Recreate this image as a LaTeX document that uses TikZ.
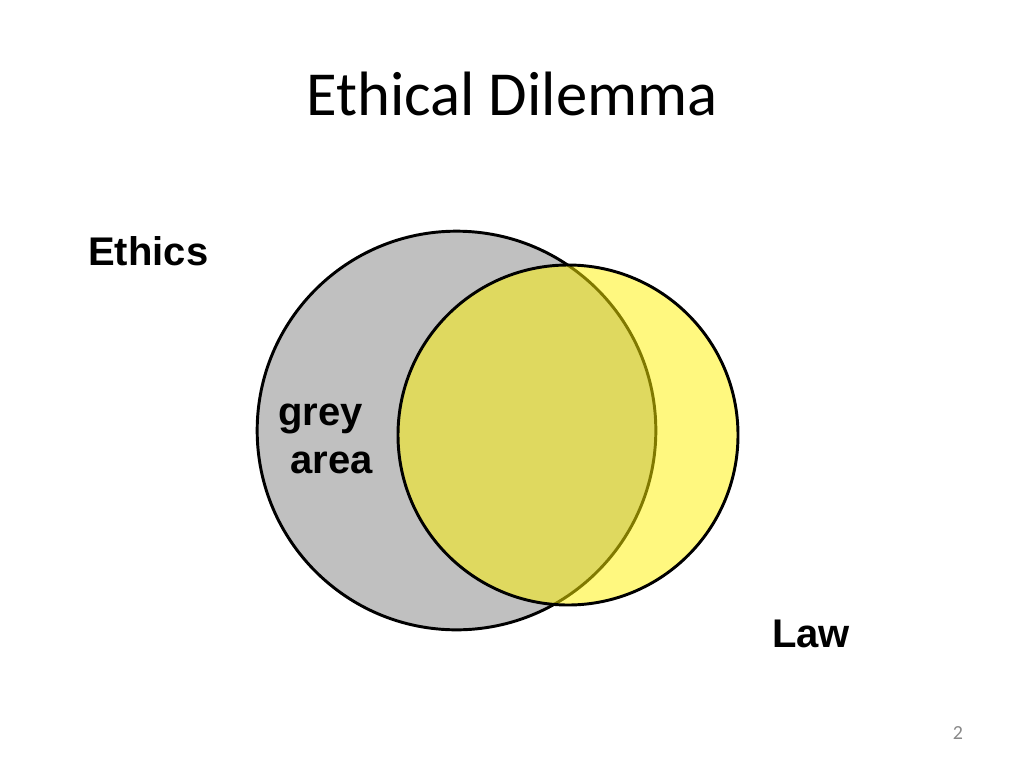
\documentclass[tikz,border=0pt]{standalone}
\usepackage{fontspec}
\setmainfont{Carlito}
\newfontfamily\arialfont{Liberation Sans}
\begin{document}
\begin{tikzpicture}[x=0.75pt,y=-0.75pt,
  lbl/.style={font=\arialfont\bfseries\fontsize{30}{35}\selectfont, inner sep=0pt, anchor=base west},
  vcircle/.style={circle, draw=black, line width=2.2pt, inner sep=0pt}]
\definecolor{silverfill}{RGB}{192,192,192}
\definecolor{pagegrey}{RGB}{137,137,137}
\useasboundingbox[fill=white] (0,0) rectangle (1024,768);
\node[font=\fontsize{47}{56}\selectfont, inner sep=0pt, anchor=base] (title) at (512,115) {Ethical Dilemma};
\node[vcircle, fill=silverfill, minimum size=299pt] (ethicscircle) at (456.5,430.5) {};
\node[vcircle, fill=yellow, fill opacity=0.5, draw opacity=1, minimum size=255pt] (lawcircle) at (568,435) {};
\node[lbl] (ethics) at (88,265) {Ethics};
\node[lbl] (grey) at (278,425) {grey};
\node[lbl] (area) at (290,473) {area};
\node[lbl] (law) at (772,647) {Law};
\node[font=\fontsize{15}{18}\selectfont, text=pagegrey, inner sep=0pt, anchor=base] (page) at (958,739) {2};
\end{tikzpicture}
\end{document}
